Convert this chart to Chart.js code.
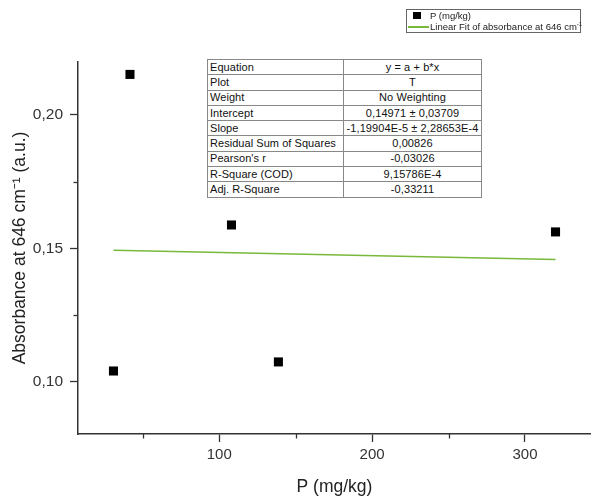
<!DOCTYPE html>
<html>
<head>
<meta charset="utf-8">
<script src="https://cdn.jsdelivr.net/npm/chart.js@4/dist/chart.umd.min.js"></script>
<style>
  html, body { margin: 0; padding: 0; background: #fff; }
  #wrap { position: relative; width: 591px; height: 498px; overflow: hidden; }
  canvas { position: absolute; left: 0; top: 0; }
  #stats {
    position: absolute; left: 207px; top: 59px; width: 275px;
    border-collapse: collapse; font-family: "Liberation Sans", Arial, sans-serif;
    font-size: 11px; color: #111; background: #fff; border: 1.5px solid #777; table-layout: fixed;
  }
  #stats td { border: 1px solid #888; height: 14.3px; padding: 0 2px; line-height: 13px; white-space: nowrap; overflow: hidden; }
  #stats td:first-child { width: 131px; text-align: left; letter-spacing: 0.05px; }
  #stats td:last-child { text-align: center; letter-spacing: 0.1px; padding: 0 0; }
  #legend {
    position: absolute; left: 406px; top: 9px; width: 175px; height: 24px;
    border: 1px solid #666; font-family: "Liberation Sans", Arial, sans-serif;
    font-size: 9.5px; color: #222; background: #fff; box-sizing: border-box;
  }
  .lrow { position: absolute; left: 0; height: 11px; line-height: 11px; white-space: nowrap; }
  .sym-sq { position: absolute; left: 6px; top: 2px; width: 8px; height: 7px; background: #000; }
  .sym-ln { position: absolute; left: 1px; top: 5px; width: 21px; height: 1.5px; background: #78b83a; }
  .ltxt { position: absolute; left: 23px; }
  sup { font-size: 6px; vertical-align: top; line-height: 6px; }
</style>
</head>
<body>
<div id="wrap">
  <canvas id="c" width="591" height="498"></canvas>
  <div id="legend">
    <div class="lrow" style="top:0px"><span class="sym-sq"></span><span class="ltxt">P (mg/kg)</span></div>
    <div class="lrow" style="top:11px"><span class="sym-ln"></span><span class="ltxt">Linear Fit of absorbance at 646 cm<sup>-1</sup></span></div>
  </div>
  <table id="stats"></table>
</div>
<script>
// ---- data ----
const pValues = [30.8, 41.6, 108.0, 138.7, 320.0];          // P (mg/kg)
const absorbance = [0.1041, 0.2152, 0.1588, 0.1075, 0.1562]; // absorbance at 646 cm-1
const fitX = [30.8, 320.0];
const fitY = [0.14934, 0.14587];
const xMajorTicks = [100, 200, 300];
const xMinorTicks = [50, 150, 250];
const yMajorTicks = [0.10, 0.15, 0.20];
const yMinorTicks = [0.125, 0.175];
const statLabels = ["Equation", "Plot", "Weight", "Intercept", "Slope", "Residual Sum of Squares", "Pearson's r", "R-Square (COD)", "Adj. R-Square"];
const statValues = ["y = a + b*x", "T", "No Weighting", "0,14971 ± 0,03709", "-1,19904E-5 ± 2,28653E-4", "0,00826", "-0,03026", "9,15786E-4", "-0,33211"];

// stats table
const tbl = document.getElementById('stats');
statLabels.forEach((l, i) => {
  const tr = document.createElement('tr');
  const a = document.createElement('td'); a.textContent = l;
  const b = document.createElement('td'); b.textContent = statValues[i];
  tr.appendChild(a); tr.appendChild(b); tbl.appendChild(tr);
});

const axisColor = '#333';
const minorTicks = {
  id: 'minorTicks',
  afterDraw(chart) {
    const ctx = chart.ctx, xs = chart.scales.x, ys = chart.scales.y;
    ctx.save();
    ctx.strokeStyle = axisColor; ctx.lineWidth = 1.3;
    xMinorTicks.forEach(v => {
      const px = Math.round(xs.getPixelForValue(v)) + 0.5;
      ctx.beginPath(); ctx.moveTo(px, ys.bottom); ctx.lineTo(px, ys.bottom + 4.5); ctx.stroke();
    });
    yMinorTicks.forEach(v => {
      const py = Math.round(ys.getPixelForValue(v)) + 0.5;
      ctx.beginPath(); ctx.moveTo(xs.left, py); ctx.lineTo(xs.left - 4.5, py); ctx.stroke();
    });
    ctx.restore();
  }
};

const fmtY = v => v.toFixed(2).replace('.', ',');

new Chart(document.getElementById('c'), {
  type: 'scatter',
  data: {
    datasets: [
      {
        label: 'P (mg/kg)',
        data: pValues.map((x, i) => ({ x, y: absorbance[i] })),
        pointStyle: 'rect', pointRadius: 6.4, pointHoverRadius: 6.4,
        backgroundColor: '#000', borderWidth: 0, order: 1
      },
      {
        type: 'line',
        label: 'Linear Fit of absorbance at 646 cm-1',
        data: fitX.map((x, i) => ({ x, y: fitY[i] })),
        borderColor: '#78b83a', borderWidth: 1.6, pointRadius: 0, fill: false, order: 2
      }
    ]
  },
  options: {
    responsive: false, animation: false,
    layout: { autoPadding: false, padding: { top: 62, right: 0, left: 0, bottom: 0 } },
    plugins: { legend: { display: false }, tooltip: { enabled: false } },
    scales: {
      x: {
        type: 'linear', min: 7.6, max: 343.2,
        afterBuildTicks: s => { s.ticks = xMajorTicks.map(v => ({ value: v })); },
        afterFit: s => { s.height = 64; },
        border: { display: true, color: axisColor, width: 1.5 },
        grid: { drawOnChartArea: false, drawTicks: true, tickLength: 8, tickColor: axisColor, tickWidth: 1.3 },
        ticks: { color: '#333', font: { family: 'Liberation Sans, Arial', size: 15 }, padding: 4, maxRotation: 0,
                 callback: v => String(v) },
        title: { display: true, text: 'P (mg/kg)', color: '#222', font: { family: 'Liberation Sans, Arial', size: 17.5 },
                 padding: { top: 1, bottom: 0 } }
      },
      y: {
        type: 'linear', min: 0.0805, max: 0.21985,
        afterBuildTicks: s => { s.ticks = yMajorTicks.map(v => ({ value: v })); },
        afterFit: s => { s.width = 78; },
        border: { display: true, color: axisColor, width: 1.5 },
        grid: { drawOnChartArea: false, drawTicks: true, tickLength: 8, tickColor: axisColor, tickWidth: 1.3 },
        ticks: { color: '#333', font: { family: 'Liberation Sans, Arial', size: 15.5 }, padding: 7,
                 callback: v => fmtY(v) },
        title: { display: true, text: 'Absorbance at 646 cm\u207B\u00B9 (a.u.)', color: '#222',
                 font: { family: 'Liberation Sans, Arial', size: 17.5 }, padding: { top: 10, bottom: 0 } }
      }
    }
  },
  plugins: [minorTicks]
});
</script>
</body>
</html>
